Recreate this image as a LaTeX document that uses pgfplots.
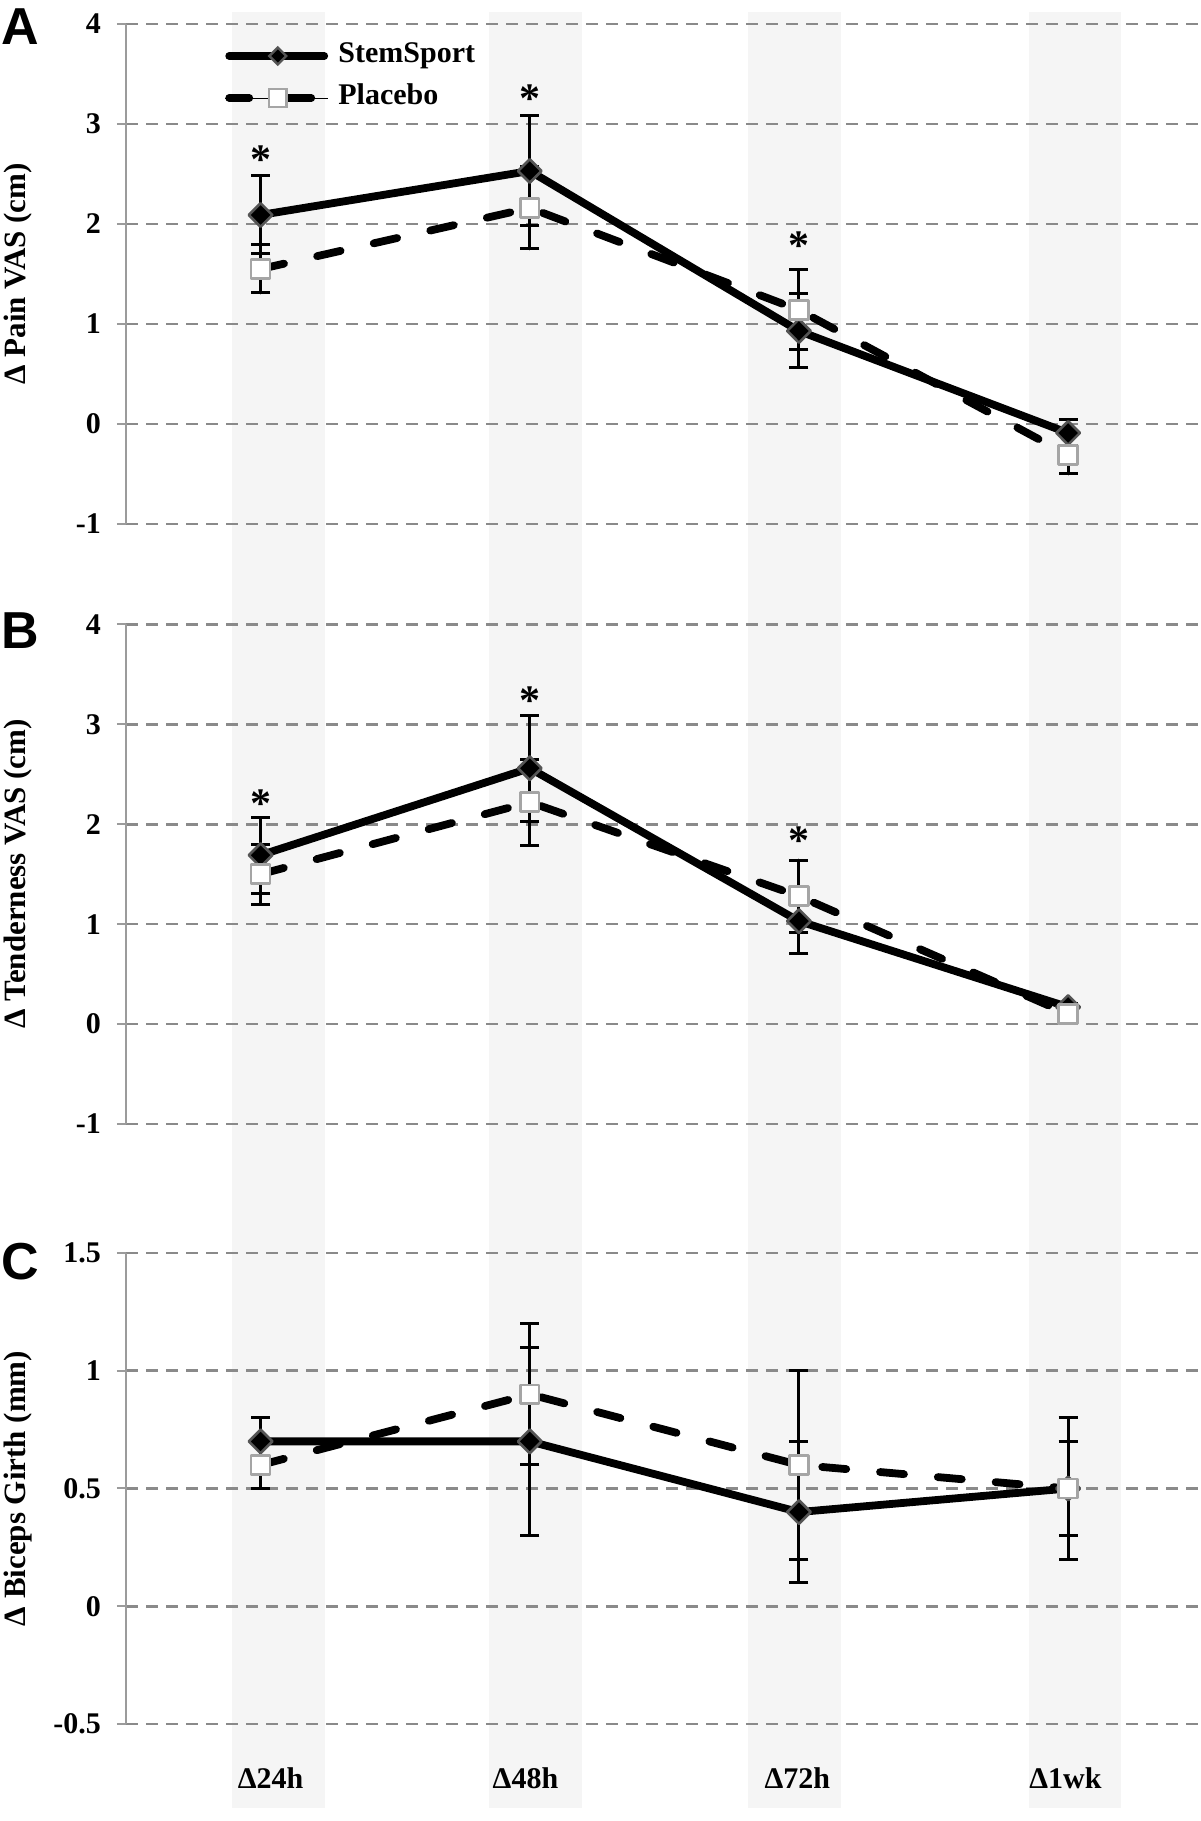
\documentclass[border=0pt]{standalone}
\usepackage{fontspec}
\setmainfont{Liberation Serif}
\setsansfont{Liberation Sans}
\usepackage{pgfplots}
\pgfplotsset{compat=1.18}
\usetikzlibrary{plotmarks}
\definecolor{bandgray}{RGB}{245,245,245}
\definecolor{gridgray}{RGB}{138,138,138}
\definecolor{axgray}{RGB}{155,155,155}
\definecolor{mkdiam}{RGB}{85,85,85}
\definecolor{mksq}{RGB}{165,165,165}

\pgfplotsset{
 panel/.style={
  scale only axis, width=537pt, set layers, clip=false,
  xmin=-0.5, xmax=3.49,
  axis lines*=left,
  x axis line style={draw=none},
  y axis line style={axgray, line width=1pt},
  ytick style={axgray, line width=1pt},
  xtick style={draw=none},
  tick align=outside, major tick length=4.5pt,
  ymajorgrids, grid style={gridgray, line width=1.35pt, dash pattern=on 6pt off 4pt},
  /pgf/number format/assume math mode=true,
  ticklabel style={font=\bfseries\fontsize{15}{15}\selectfont},
  yticklabel style={xshift=-4.5pt},
  label style={font=\bfseries\fontsize{15.5}{16}\selectfont},
  ylabel style={at={(axis description cs:-0.1006,0.5)}, anchor=center},
 },
 band/.style={forget plot, fill=bandgray, draw=none, mark=none, on layer=axis background},
 ebars/.style={
  /pgfplots/error bars/y dir=both, /pgfplots/error bars/y explicit,
  /pgfplots/error bars/error mark=|,
  /pgfplots/error bars/error bar style={solid, line width=1.5pt, black},
  /pgfplots/error bars/error mark options={solid, mark size=4.75pt, line width=1.5pt, black}},
 stem/.style={forget plot, black, line width=3.9pt, line join=round, mark=diamond*, mark size=5.9pt,
  mark options={solid, fill=black, draw=mkdiam, line width=1.3pt, xscale=1.333}, ebars},
 plac/.style={forget plot, black, line width=3.9pt, line join=round, line cap=round, dash pattern=on 12pt off 17pt,
  mark=square*, mark size=4.7pt,
  mark options={solid, fill=white, draw=mksq, line width=1.3pt}, ebars},
 star/.style={forget plot, only marks, mark=text, text mark={*}, text mark as node=true,
  text mark style={font=\bfseries\fontsize{21}{21}\selectfont, inner sep=0pt, anchor=center, black}},
}

\begin{document}
\begin{tikzpicture}

% ---------------- Panel A ----------------
\begin{axis}[panel, at={(63pt,648.5pt)}, anchor=south west, height=250pt,
  ymin=-1, ymax=4, ytick={-1,0,1,2,3,4}, xtick=\empty,
  ylabel={Δ Pain VAS (cm)},
  legend cell align=left,
  legend style={at={(rel axis cs:0.0922,0.894)}, anchor=west, draw=none, fill=none,
    inner sep=0pt, outer sep=0pt, row sep=6pt,
    font=\bfseries\fontsize{15}{15}\selectfont,
    nodes={inner sep=0pt, text height=11pt, text depth=4pt},
    /tikz/every odd column/.append style={column sep=5pt}}]
\addplot[band] coordinates {(-0.106,-1.5)(0.239,-1.5)(0.239,4.12)(-0.106,4.12)};
\addplot[band] coordinates {(0.848,-1.5)(1.193,-1.5)(1.193,4.12)(0.848,4.12)};
\addplot[band] coordinates {(1.810,-1.5)(2.155,-1.5)(2.155,4.12)(1.810,4.12)};
\addplot[band] coordinates {(2.853,-1.5)(3.198,-1.5)(3.198,4.12)(2.853,4.12)};
\addplot[stem] coordinates {(0,2.09) +- (0,0.39) (1,2.53) +- (0,0.55) (2,0.93) +- (0,0.37) (3,-0.09) +- (0,0.13)};
\addplot[plac] coordinates {(0,1.55) +- (0,0.24) (1,2.16) +- (0,0.41) (2,1.14) +- (0,0.40) (3,-0.31) +- (0,0.19)};
\addplot[star] coordinates {(0,2.64) (1,3.25) (2,1.78)};
\addlegendimage{legend image code/.code={
  \draw[black, line width=3.9pt, line cap=round] (0pt,0pt) -- (47.5pt,0pt);
  \draw[mkdiam, fill=black, line width=1.2pt] (24.3pt,4.2pt) -- (28.5pt,0pt) -- (24.3pt,-4.2pt) -- (20.1pt,0pt) -- cycle;}}
\addlegendentry{StemSport}
\addlegendimage{legend image code/.code={
  \path (-1.9pt,0pt) -- (49.4pt,0pt);
  \draw[black, line width=3.9pt, line cap=round] (0pt,0pt) -- (10pt,0pt);
  \draw[black, line width=3.9pt, line cap=round] (27pt,0pt) -- (41pt,0pt);
  \draw[mksq, fill=white, line width=1.2pt] (19.8pt,-4.4pt) rectangle (28.6pt,4.4pt);}}
\addlegendentry{Placebo}
\end{axis}
\node[anchor=north west, inner sep=0pt, font=\sffamily\bfseries\fontsize{26}{26}\selectfont] at (0.5pt,906.5pt) {A};

% ---------------- Panel B ----------------
\begin{axis}[panel, at={(63pt,348.5pt)}, anchor=south west, height=249.85pt,
  ymin=-1, ymax=4, ytick={-1,0,1,2,3,4}, xtick=\empty,
  ylabel={Δ Tenderness VAS (cm)}]
\addplot[band] coordinates {(-0.106,-1.645)(0.239,-1.645)(0.239,4.5)(-0.106,4.5)};
\addplot[band] coordinates {(0.848,-1.645)(1.193,-1.645)(1.193,4.5)(0.848,4.5)};
\addplot[band] coordinates {(1.810,-1.645)(2.155,-1.645)(2.155,4.5)(1.810,4.5)};
\addplot[band] coordinates {(2.853,-1.645)(3.198,-1.645)(3.198,4.5)(2.853,4.5)};
\addplot[stem] coordinates {(0,1.69) +- (0,0.38) (1,2.56) +- (0,0.53) (2,1.03) +- (0,0.32) (3,0.17) +- (0,0.04)};
\addplot[plac] coordinates {(0,1.50) +- (0,0.30) (1,2.22) +- (0,0.43) (2,1.28) +- (0,0.36) (3,0.10) +- (0,0.04)};
\addplot[star] coordinates {(0,2.21) (1,3.24) (2,1.84)};
\end{axis}
\node[anchor=north west, inner sep=0pt, font=\sffamily\bfseries\fontsize{26}{26}\selectfont] at (0.5pt,604.5pt) {B};

% ---------------- Panel C ----------------
\begin{axis}[panel, at={(63pt,48.5pt)}, anchor=south west, height=235.5pt,
  ymin=-0.5, ymax=1.5, ytick={-0.5,0,0.5,1,1.5},
  xtick={0.037,0.984,1.994,2.99},
  xticklabels={Δ24h,Δ48h,Δ72h,Δ1wk},
  xticklabel style={anchor=center, yshift=-22.5pt},
  ylabel={Δ Biceps Girth (mm)}]
\addplot[band] coordinates {(-0.106,-0.857)(0.239,-0.857)(0.239,1.774)(-0.106,1.774)};
\addplot[band] coordinates {(0.848,-0.857)(1.193,-0.857)(1.193,1.774)(0.848,1.774)};
\addplot[band] coordinates {(1.810,-0.857)(2.155,-0.857)(2.155,1.774)(1.810,1.774)};
\addplot[band] coordinates {(2.853,-0.857)(3.198,-0.857)(3.198,1.774)(2.853,1.774)};
\addplot[stem] coordinates {(0,0.70) +- (0,0.10) (1,0.70) +- (0,0.40) (2,0.40) +- (0,0.30) (3,0.50) +- (0,0.30)};
\addplot[plac] coordinates {(0,0.60) +- (0,0.10) (1,0.90) +- (0,0.30) (2,0.60) +- (0,0.40) (3,0.50) +- (0,0.20)};
\end{axis}
\node[anchor=north west, inner sep=0pt, font=\sffamily\bfseries\fontsize{26}{26}\selectfont] at (0.5pt,289pt) {C};
\pgfresetboundingbox
\path[use as bounding box] (0,0) rectangle (600pt,910.5pt);
\end{tikzpicture}
\end{document}
